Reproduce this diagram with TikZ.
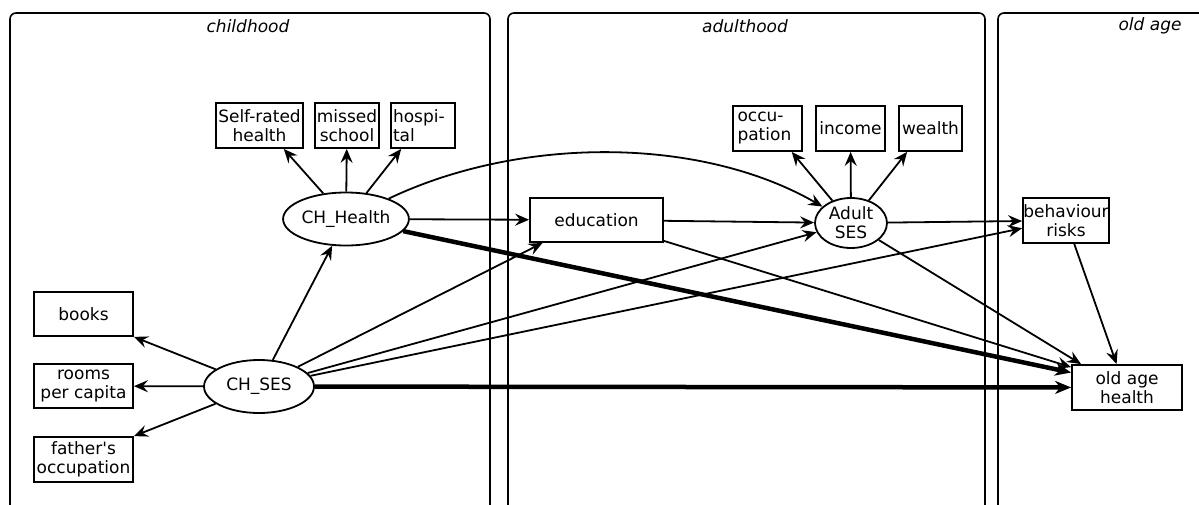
\documentclass[tikz,border=0pt]{standalone}
\usepackage{fontspec}
\setmainfont{DejaVu Sans}[Ligatures=TeXOff]
\usetikzlibrary{arrows.meta,shapes.geometric}
\begin{document}
\begin{tikzpicture}[x=1pt,y=-1pt,
  panel/.style={line width=1.6pt, rounded corners=6pt},
  title/.style={font=\fontsize{17}{19}\selectfont\itshape, inner sep=0pt},
  obs/.style={draw, line width=1.8pt, rectangle, inner sep=0pt, align=center, font=\fontsize{17}{19}\selectfont},
  lat/.style={draw, line width=1.8pt, ellipse, inner sep=0pt, align=center, font=\fontsize{17}{19}\selectfont},
  arr/.style={line width=1.8pt, -{Stealth[length=14pt,width=12pt,inset=5pt]}},
  thickarr/.style={line width=4.5pt, -{Stealth[length=16pt,width=13pt,inset=5pt]}}
]
\useasboundingbox (0,0) rectangle (1199,504);
% panels
\draw[panel] (10,530) -- (10,13) -- (490,13) -- (490,530);
\draw[panel] (508,530) -- (508,13) -- (985,13) -- (985,530);
\draw[panel] (998,530) -- (998,13) -- (1320,13) -- (1320,530);
\node[title] (tchild) at (248,26) {childhood};
\node[title] (tadult) at (745,26) {adulthood};
\node[title] (told) at (1150,26) {old age};
% childhood
\node[obs, minimum width=87pt, minimum height=45pt] (sr) at (259.5,125.5) {Self-rated\\health};
\node[obs, minimum width=64pt, minimum height=45pt] (ms) at (347,125.5) {missed\\school};
\node[obs, minimum width=64pt, minimum height=45pt, align=left, text width=60pt] (hosp) at (423,125.5) {hospi-\\tal};
\node[lat, minimum width=110pt, minimum height=53pt] (chh) at (346,219) {CH\_Health};
\node[obs, minimum width=99pt, minimum height=44pt] (books) at (83.5,314) {books};
\node[obs, minimum width=99pt, minimum height=44pt] (rooms) at (83.5,386) {rooms\\per capita};
\node[obs, minimum width=99pt, minimum height=45pt] (fath) at (83.5,459.5) {father's\\occupation};
\node[lat, minimum width=110pt, minimum height=53pt] (chses) at (259,386.5) {CH\_SES};
% adulthood
\node[obs, minimum width=133pt, minimum height=44pt] (edu) at (596.5,220) {education};
\node[obs, minimum width=69pt, minimum height=45pt, align=left, text width=60pt] (occ) at (767.5,128.5) {occu-\\pation};
\node[obs, minimum width=69pt, minimum height=45pt] (inc) at (850.5,128.5) {income};
\node[obs, minimum width=63pt, minimum height=45pt] (wea) at (930.5,128.5) {wealth};
\node[lat, minimum width=72pt, minimum height=50pt] (ases) at (851,223) {Adult\\SES};
% old age
\node[obs, minimum width=86pt, minimum height=45pt] (beh) at (1066,220.5) {behaviour\\risks};
\node[obs, minimum width=110pt, minimum height=45pt] (oah) at (1127,387.5) {old age\\health};
% childhood edges
\draw[arr] (chh) -- (sr.-44);
\draw[arr] (chh) -- (ms);
\draw[arr] (chh) -- (hosp.227);
\draw[arr] (chses) -- (chh);
\draw[arr] (chses) -- (books.south east);
\draw[arr] (chses) -- (rooms);
\draw[arr] (chses) -- (fath.north east);
% cross-period edges
\draw[arr] (chh) -- (edu);
\draw[arr] (chh) .. controls (520,136) and (700,136) .. (ases);
\draw[arr] (chses) -- (edu.203);
\draw[arr] (chses) -- (ases.195);
\draw[arr] (chses) -- (beh.190);
\draw[arr] (edu) -- (ases);
\draw[arr] (edu) -- (oah.160);
\draw[arr] (ases) -- (occ.-44);
\draw[arr] (ases) -- (inc);
\draw[arr] (ases) -- (wea.225);
\draw[arr] (ases) -- (beh);
\draw[arr] (ases) -- (oah.153);
\draw[arr] (beh) -- (oah.114);
\draw[thickarr] (chh) -- (oah.165);
\draw[thickarr] (chses) -- (oah);
\end{tikzpicture}
\end{document}
